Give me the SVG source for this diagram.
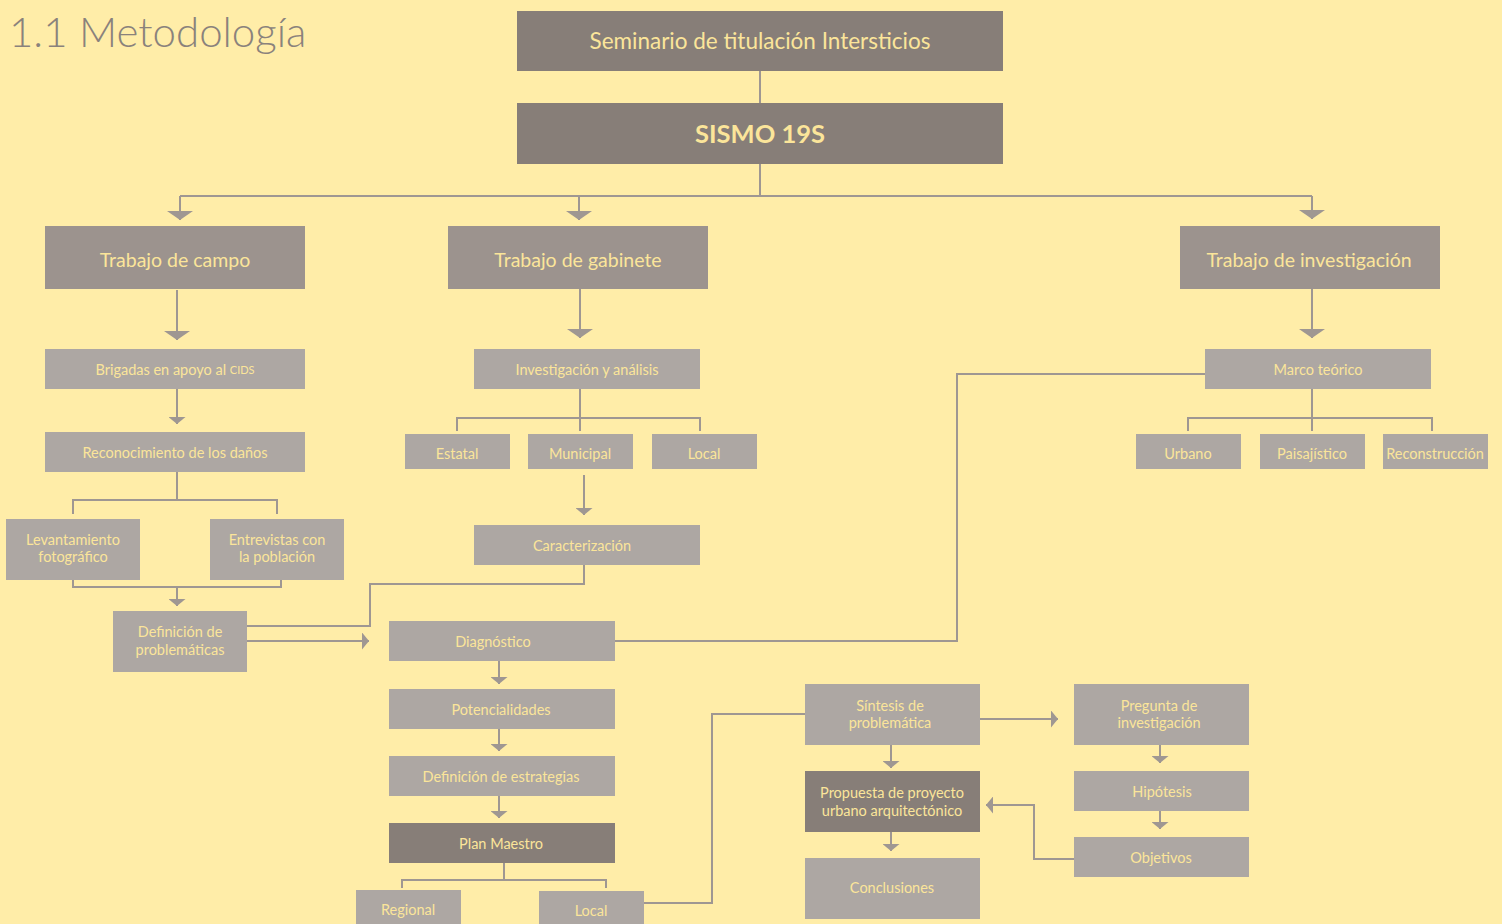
<svg xmlns="http://www.w3.org/2000/svg" width="1502" height="924" viewBox="0 0 1502 924">
<style>
.bg{fill:#FFEDA8}
.dk{fill:#877E78}
.md{fill:#9C938E}
.lt{fill:#ADA7A3}
text{font-family:Lato,"Noto Sans","Liberation Sans",sans-serif;fill:#FBE59A;text-anchor:middle;dominant-baseline:central}
.t1{font-size:19.5px}
.t0{font-size:22.5px}
.tb{font-size:25.5px;font-weight:bold}
.ts{font-size:14.5px}
.title{font-size:42px;font-weight:300;fill:#8A827C;text-anchor:start;dominant-baseline:auto}
.c path{fill:none;stroke:#9F9792;stroke-width:2}
</style>
<defs>
<marker id="ab" markerUnits="userSpaceOnUse" viewBox="0 0 10 10" refX="10" refY="5" markerWidth="9" markerHeight="26" orient="auto" preserveAspectRatio="none"><path d="M0,0 L10,5 L0,10 z" fill="#9F9792"/></marker>
<marker id="as" markerUnits="userSpaceOnUse" viewBox="0 0 10 10" refX="10" refY="5" markerWidth="7" markerHeight="17" orient="auto" preserveAspectRatio="none"><path d="M0,0 L10,5 L0,10 z" fill="#9F9792"/></marker>
</defs>
<rect class="bg" x="0" y="0" width="1502" height="924"/>
<text class="title" x="9" y="47">1.1 Metodología</text>

<g class="c" id="connectors">
<path d="M760,71 V103"/>
<path d="M760,164 V196"/>
<path d="M180,196 H1312"/>
<path d="M180,196 V220" marker-end="url(#ab)"/>
<path d="M579,196 V220" marker-end="url(#ab)"/>
<path d="M1312,196 V219" marker-end="url(#ab)"/>
<path d="M177,290 V340" marker-end="url(#ab)"/>
<path d="M580,289 V338" marker-end="url(#ab)"/>
<path d="M1312,289 V338" marker-end="url(#ab)"/>
<path d="M177,389 V424" marker-end="url(#as)"/>
<path d="M177,472 V500 M73,514 V500 H277 V514"/>
<path d="M73,580 V587 H281 V580"/>
<path d="M177,587 V606" marker-end="url(#as)"/>
<path d="M247,626 H370 V584 H584 V565"/>
<path d="M247,641 H369" marker-end="url(#as)"/>
<path d="M580,389 V431 M457,431 V418 H700 V431"/>
<path d="M584,475 V515" marker-end="url(#as)"/>
<path d="M615,641 H957 V374 H1205"/>
<path d="M1312,389 V431 M1188,431 V418 H1432 V431"/>
<path d="M499,661 V684" marker-end="url(#as)"/>
<path d="M499,729 V751" marker-end="url(#as)"/>
<path d="M499,796 V818" marker-end="url(#as)"/>
<path d="M504,863 V880 M402,888 V880 H606 V888"/>
<path d="M644,903 H712 V714 H805"/>
<path d="M980,719 H1058" marker-end="url(#as)"/>
<path d="M891,745 V768" marker-end="url(#as)"/>
<path d="M891,832 V851" marker-end="url(#as)"/>
<path d="M1160,745 V763" marker-end="url(#as)"/>
<path d="M1160,811 V829" marker-end="url(#as)"/>
<path d="M1074,859 H1034 V805 H986" marker-end="url(#as)"/>
</g>

<g id="seminario"><rect class="dk" x="517" y="11" width="486" height="60"/><text class="t0" x="760" y="40">Seminario de titulación Intersticios</text></g>
<g id="sismo"><rect class="dk" x="517" y="103" width="486" height="61"/><text class="tb" x="760" y="133">SISMO 19S</text></g>

<g id="campo"><rect class="md" x="45" y="226" width="260" height="63"/><text class="t1" x="175" y="259">Trabajo de campo</text></g>
<g id="gabinete"><rect class="md" x="448" y="226" width="260" height="63"/><text class="t1" x="578" y="259">Trabajo de gabinete</text></g>
<g id="investigacion"><rect class="md" x="1180" y="226" width="260" height="63"/><text class="t1" x="1309" y="259">Trabajo de investigación</text></g>

<g id="brigadas"><rect class="lt" x="45" y="349" width="260" height="40"/><text class="ts" x="175" y="369">Brigadas en apoyo al <tspan font-size="11px">CIDS</tspan></text></g>
<g id="reconocimiento"><rect class="lt" x="45" y="432" width="260" height="40"/><text class="ts" x="175" y="452">Reconocimiento de los daños</text></g>
<g id="levantamiento"><rect class="lt" x="6" y="519" width="134" height="61"/><text class="ts" x="73" y="539">Levantamiento</text><text class="ts" x="73" y="556">fotográfico</text></g>
<g id="entrevistas"><rect class="lt" x="210" y="519" width="134" height="61"/><text class="ts" x="277" y="539">Entrevistas con</text><text class="ts" x="277" y="556">la población</text></g>
<g id="definicion"><rect class="lt" x="113" y="611" width="134" height="61"/><text class="ts" x="180" y="631">Definición de</text><text class="ts" x="180" y="649">problemáticas</text></g>

<g id="analisis"><rect class="lt" x="474" y="349" width="226" height="40"/><text class="ts" x="587" y="369">Investigación y análisis</text></g>
<g id="estatal"><rect class="lt" x="405" y="434" width="105" height="35"/><text class="ts" x="457" y="453">Estatal</text></g>
<g id="municipal"><rect class="lt" x="528" y="434" width="105" height="35"/><text class="ts" x="580" y="453">Municipal</text></g>
<g id="local1"><rect class="lt" x="652" y="434" width="105" height="35"/><text class="ts" x="704" y="453">Local</text></g>
<g id="caracterizacion"><rect class="lt" x="474" y="525" width="226" height="40"/><text class="ts" x="582" y="545">Caracterización</text></g>

<g id="marco"><rect class="lt" x="1205" y="349" width="226" height="40"/><text class="ts" x="1318" y="369">Marco teórico</text></g>
<g id="urbano"><rect class="lt" x="1136" y="434" width="105" height="35"/><text class="ts" x="1188" y="453">Urbano</text></g>
<g id="paisajistico"><rect class="lt" x="1260" y="434" width="105" height="35"/><text class="ts" x="1312" y="453">Paisajístico</text></g>
<g id="reconstruccion"><rect class="lt" x="1383" y="434" width="105" height="35"/><text class="ts" x="1435" y="453">Reconstrucción</text></g>

<g id="diagnostico"><rect class="lt" x="389" y="621" width="226" height="40"/><text class="ts" x="493" y="641">Diagnóstico</text></g>
<g id="potencialidades"><rect class="lt" x="389" y="689" width="226" height="40"/><text class="ts" x="501" y="709">Potencialidades</text></g>
<g id="estrategias"><rect class="lt" x="389" y="756" width="226" height="40"/><text class="ts" x="501" y="776">Definición de estrategias</text></g>
<g id="plan"><rect class="dk" x="389" y="823" width="226" height="40"/><text class="ts" x="501" y="843">Plan Maestro</text></g>
<g id="regional"><rect class="lt" x="356" y="890" width="105" height="40"/><text class="ts" x="408" y="909">Regional</text></g>
<g id="local2"><rect class="lt" x="539" y="891" width="105" height="40"/><text class="ts" x="591" y="910">Local</text></g>

<g id="sintesis"><rect class="lt" x="805" y="684" width="175" height="61"/><text class="ts" x="890" y="705">Síntesis de</text><text class="ts" x="890" y="722">problemática</text></g>
<g id="propuesta"><rect class="dk" x="805" y="771" width="175" height="61"/><text class="ts" x="892" y="792">Propuesta de proyecto</text><text class="ts" x="892" y="810">urbano arquitectónico</text></g>
<g id="conclusiones"><rect class="lt" x="805" y="858" width="175" height="61"/><text class="ts" x="892" y="887">Conclusiones</text></g>
<g id="pregunta"><rect class="lt" x="1074" y="684" width="175" height="61"/><text class="ts" x="1159" y="705">Pregunta de</text><text class="ts" x="1159" y="722">investigación</text></g>
<g id="hipotesis"><rect class="lt" x="1074" y="771" width="175" height="40"/><text class="ts" x="1162" y="791">Hipótesis</text></g>
<g id="objetivos"><rect class="lt" x="1074" y="837" width="175" height="40"/><text class="ts" x="1161" y="857">Objetivos</text></g>
</svg>
